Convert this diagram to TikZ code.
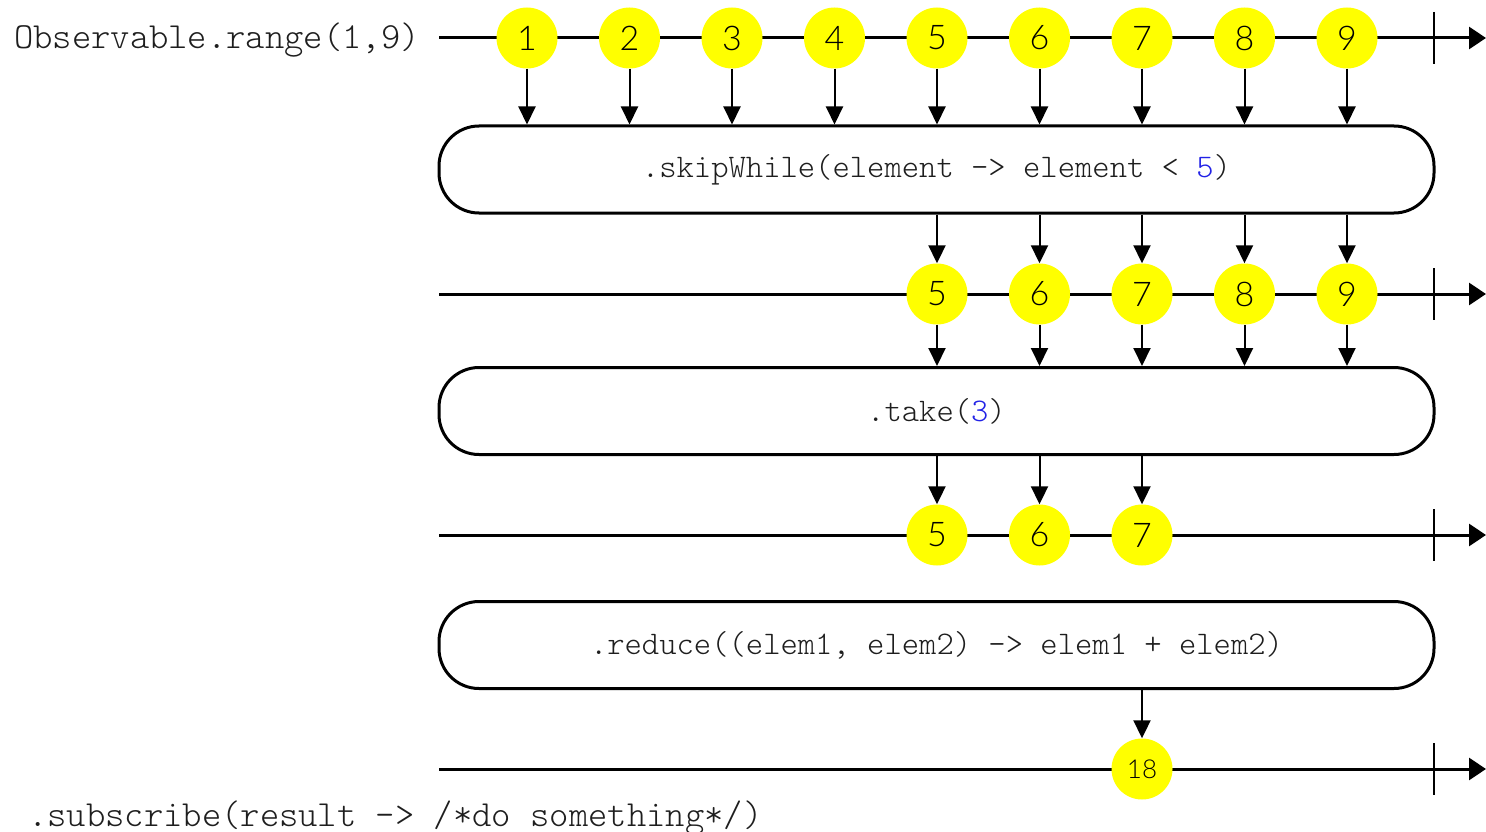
\documentclass[tikz,border=0pt]{standalone}
\usepackage{fontspec}
\usetikzlibrary{arrows.meta,calc}
\newfontfamily\codefont{lmmonolt10-regular.otf}
\newfontfamily\numfont{Lato}[UprightFont=* Light]
\definecolor{marble}{RGB}{255,255,0}
\definecolor{literal}{RGB}{34,34,230}
\definecolor{codeink}{RGB}{30,30,30}
\begin{document}
\begin{tikzpicture}[x=1pt,y=-1pt,
  timeline/.style={line width=3pt,-{Triangle[length=17pt,width=22pt]}},
  endtick/.style={line width=2.5pt},
  marble/.style={circle,fill=marble,minimum size=61pt,inner sep=0pt,
    font=\numfont\fontsize{34}{34}\selectfont},
  smallmarble/.style={marble,font=\numfont\fontsize{26}{26}\selectfont},
  opbox/.style={draw,line width=3pt,rounded corners=40pt,minimum width=995pt,
    minimum height=87pt,inner sep=0pt,text=codeink,
    font=\codefont\fontsize{33}{33}\selectfont},
  flow/.style={line width=2pt,-{Triangle[length=18pt,width=17pt]}},
  codelabel/.style={inner sep=0pt,text=codeink,
    font=\codefont\fontsize{36.8}{36.8}\selectfont}]
\useasboundingbox (0,0) rectangle (1486,832);

% timelines: start, end of arrow, completion tick
\foreach \row/\y in {1/38,2/294,3/535,4/769}{
  \coordinate (s\row) at (439,\y);
  \coordinate (e\row) at (1486,\y);
  \coordinate (t\row) at (1434,\y);
  \draw[timeline] (s\row) -- (e\row);
  \draw[endtick] ($(t\row)+(0,-26)$) -- ($(t\row)+(0,26)$);
}

% source emissions
\foreach \i in {1,...,9}{
  \node[marble] (a\i) at ({527+102.5*(\i-1)},38) {\i};
}
\node[codelabel,anchor=east] (src) at (420,40) {Observable.range(1,9)};

% operators
\node[opbox] (b1) at (936.5,169.5) {.skipWhile(element -> element < \textcolor{literal}{5})};
\node[opbox] (b2) at (936.5,411) {.take(\textcolor{literal}{3})};
\node[opbox] (b3) at (936.5,645) {.reduce((elem1, elem2) -> elem1 + elem2)};

% after skipWhile
\foreach \i in {5,...,9}{
  \node[marble] (d\i) at ({527+102.5*(\i-1)},294) {\i};
}
% after take
\foreach \i in {5,...,7}{
  \node[marble] (f\i) at ({527+102.5*(\i-1)},535) {\i};
}
% after reduce
\node[smallmarble] (g18) at (1142,769) {18};

\node[codelabel,anchor=west] (sub) at (28,818) {.subscribe(result -> /*do something*/)};

% emissions into operators
\foreach \i in {1,...,9}{
  \draw[flow] (a\i.south) -- (a\i.south |- b1.north);
}
\foreach \i in {5,...,9}{
  \draw[flow] (d\i.north |- b1.south) -- (d\i.north);
  \draw[flow] (d\i.south) -- (d\i.south |- b2.north);
}
\foreach \i in {5,...,7}{
  \draw[flow] (f\i.north |- b2.south) -- (f\i.north);
}
\draw[flow] (g18.north |- b3.south) -- (g18.north);
\end{tikzpicture}
\end{document}
